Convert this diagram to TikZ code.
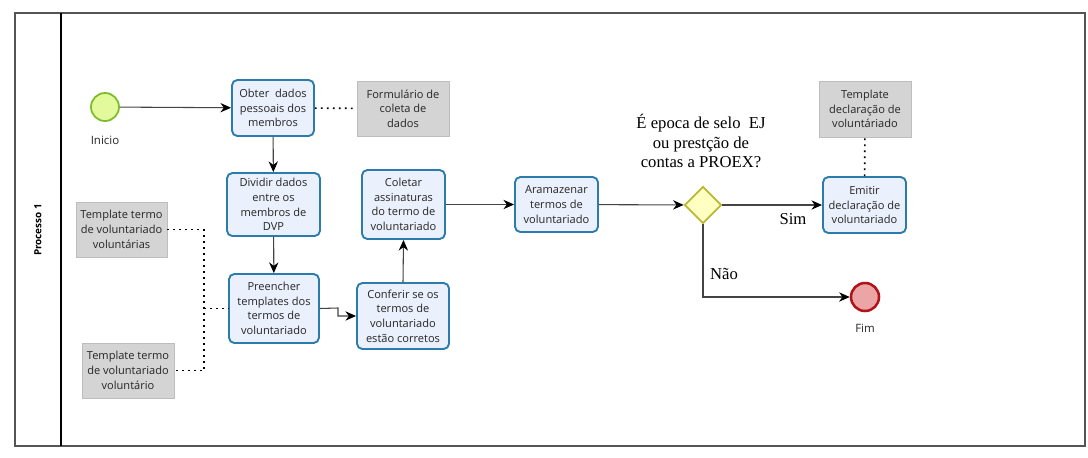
\documentclass[tikz,border=0pt]{standalone}
\usepackage{fontspec}
\setmainfont{Liberation Serif}
\setsansfont{Open Sans}
\usetikzlibrary{arrows.meta,shapes.geometric}
\definecolor{taskfill}{HTML}{EAF0FC}
\definecolor{taskdraw}{HTML}{2B7BAD}
\definecolor{datafill}{HTML}{D4D4D4}
\definecolor{datadraw}{HTML}{BDBDBD}
\definecolor{startfill}{HTML}{E2FA9C}
\definecolor{startdraw}{HTML}{7DBA2A}
\definecolor{gwfill}{HTML}{FFFFC2}
\definecolor{gwdraw}{HTML}{B9B935}
\definecolor{endfill}{HTML}{EBA5A5}
\definecolor{enddraw}{HTML}{B0141A}
\definecolor{framegray}{HTML}{555555}
\definecolor{flowgray}{HTML}{444444}
\tikzset{
  x=0.75pt, y=-0.75pt,
  sz/.style 2 args={minimum width=#1*0.75pt, minimum height=#2*0.75pt},
  task/.style={draw=taskdraw, fill=taskfill, line width=1.4pt, rounded corners=4pt,
    align=center, inner sep=0pt, font=\sffamily\fontsize{8.3}{11}\selectfont, text=black!85},
  dataobj/.style={draw=datadraw, fill=datafill, line width=0.6pt,
    align=center, inner sep=0pt, font=\sffamily\fontsize{8.3}{11}\selectfont, text=black!85},
  startev/.style={circle, draw=startdraw, fill=startfill, line width=1.3pt, minimum size=28*0.75pt, inner sep=0pt},
  endev/.style={circle, draw=enddraw, fill=endfill, line width=1.9pt, minimum size=28*0.75pt, inner sep=0pt},
  gateway/.style={diamond, draw=gwdraw, fill=gwfill, line width=1.3pt, minimum width=37*0.75pt, minimum height=37*0.75pt, inner sep=0pt, aspect=1},
  flow/.style={draw=flowgray, line width=0.8pt, -{Stealth[length=8pt,width=7pt,color=black]}},
  assoc/.style={draw=black, line width=1.2pt, dash pattern=on 1.2pt off 3.3pt},
  lbl/.style={font=\sffamily\fontsize{8.6}{10}\selectfont, text=black!85},
  serifl/.style={font=\fontsize{12.5}{14.6}\selectfont, align=center},
}
\begin{document}
\begin{tikzpicture}
\useasboundingbox (0,0) rectangle (1088,457);
\fill[white] (0,0) rectangle (1088,457);
% pool frame
\draw[framegray, line width=1.3pt] (15,13) rectangle (1085,446);
\draw[black, line width=0.8pt] (61,13) -- (61,446);
\node[rotate=90, font=\sffamily\bfseries\fontsize{7.4}{8}\selectfont] (lane) at (38,230) {Processo 1};

% events
\node[startev] (start) at (105,107) {};
\node[lbl] (inicio) at (105,140) {Inicio};
\node[endev] (fim) at (865,297) {};
\node[lbl] (fimlbl) at (865,328) {Fim};

% tasks
\node[task, sz={82}{56}] (obter) at (273,108) {Obter\ \ dados\\pessoais dos\\membros};
\node[task, sz={93}{63}] (dividir) at (273.5,204.5) {Dividir dados\\entre os\\membros de\\DVP};
\node[task, sz={90}{69}] (preencher) at (274,308.5) {Preencher\\templates dos\\termos de\\voluntariado};
\node[task, sz={92}{66}] (conferir) at (403,316) {Conferir se os\\termos de\\voluntariado\\estão corretos};
\node[task, sz={83}{69}] (coletar) at (403.5,204.5) {Coletar\\assinaturas\\do termo de\\voluntariado};
\node[task, sz={83}{55}] (armaz) at (556.5,204.5) {Aramazenar\\termos de\\voluntariado};
\node[task, sz={83}{56}] (emitir) at (864.5,205) {Emitir\\declaração de\\voluntariado};

% data objects
\node[dataobj, sz={92}{55}] (form) at (403,108.5) {Formulário de\\coleta de\\dados};
\node[dataobj, sz={92}{56}] (tdecl) at (865,109) {Template\\declaração de\\voluntáriado};
\node[dataobj, sz={91}{55}] (tvs) at (121.5,229.5) {Template termo\\de voluntariado\\voluntárias};
\node[dataobj, sz={92}{55}] (tv) at (128,370.5) {Template termo\\de voluntariado\\voluntário};

% gateway
\node[gateway] (gw) at (703,205) {};
\node[serifl] (q) at (701,141) {É epoca de selo\ \ EJ\\ou prestção de\\contas a PROEX?};
\node[serifl] (sim) at (793,219) {Sim};
\node[serifl] (nao) at (724,274) {Não};

% sequence flows
\draw[flow] (start) -- (obter);
\draw[flow] (obter) -- (dividir);
\draw[flow] (dividir) -- (preencher);
\draw[flow] (preencher.east) -- (338,308) -- (338,316) -- (conferir.west);
\draw[flow] (conferir.north) -- (coletar.south);
\draw[flow] (coletar.east |- 0,204.5) -- (armaz.west);
\draw[flow] (armaz) -- (gw);
\draw[flow] (gw) -- (emitir);
\draw[flow] (gw.south) -- (703,297) -- (fim.west);

% associations
\coordinate (jt) at (204,229.5);
\coordinate (jm) at (204,308.5);
\coordinate (jb) at (204,370.5);
\draw[assoc] (obter) -- (form);
\draw[assoc] (tvs.east) -- (jt) -- (jb) -- (tv.east);
\draw[assoc] (jm) -- (preencher.west);
\draw[assoc] (emitir) -- (tdecl);
\end{tikzpicture}
\end{document}
